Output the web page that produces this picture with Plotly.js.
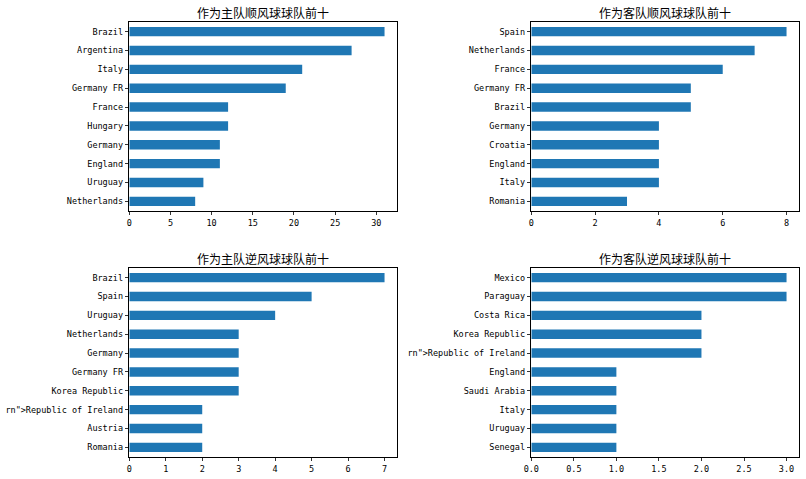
<!DOCTYPE html>
<html>
<head>
<meta charset="utf-8">
<script src="https://cdn.plot.ly/plotly-3.0.1.min.js"></script>
<style>body{margin:0;padding:0;background:#fff;}#chart{width:806px;height:479px;}</style>
</head>
<body>
<div id="chart"></div>
<script>
// Data (top to bottom order as shown)
var homeWinTeams = ["Brazil","Argentina","Italy","Germany FR","France","Hungary","Germany","England","Uruguay","Netherlands"];
var homeWinValues = [31,27,21,19,12,12,11,11,9,8];
var awayWinTeams = ["Spain","Netherlands","France","Germany FR","Brazil","Germany","Croatia","England","Italy","Romania"];
var awayWinValues = [8,7,6,5,5,4,4,4,4,3];
var homeLoseTeams = ["Brazil","Spain","Uruguay","Netherlands","Germany","Germany FR","Korea Republic","rn\">Republic of Ireland","Austria","Romania"];
var homeLoseValues = [7,5,4,3,3,3,3,2,2,2];
var awayLoseTeams = ["Mexico","Paraguay","Costa Rica","Korea Republic","rn\">Republic of Ireland","England","Saudi Arabia","Italy","Uruguay","Senegal"];
var awayLoseValues = [3,3,2,2,2,1,1,1,1,1];
var titles = ["作为主队顺风球球队前十","作为客队顺风球球队前十","作为主队逆风球球队前十","作为客队逆风球球队前十"];

var barColor = "#1f77b4";
var tickFont = {family: "'DejaVu Sans Mono', 'Liberation Mono', monospace", size: 8.5, color: "#000"};
var sets = [[homeWinTeams, homeWinValues],[awayWinTeams, awayWinValues],[homeLoseTeams, homeLoseValues],[awayLoseTeams, awayLoseValues]];

var traces = sets.map(function(s, i){
  var n = i === 0 ? "" : String(i+1);
  return {
    type: "bar", orientation: "h",
    x: s[1], y: s[0],
    xaxis: "x" + n, yaxis: "y" + n,
    marker: {color: barColor, line: {width: 0}},
    hoverinfo: "x+y"
  };
});

var W = 806, H = 479;
var xd = [[129.3, 397.3],[531.3, 799.3]];
var yd = [[22.2, 210.8],[268.2, 456.8]];
function xdom(c){ return [xd[c][0]/W, xd[c][1]/W]; }
function ydom(r){ return [1 - yd[r][1]/H, 1 - yd[r][0]/H]; }

var layout = {
  width: W, height: H,
  margin: {l:0, r:0, t:0, b:0},
  paper_bgcolor: "#fff", plot_bgcolor: "#fff",
  showlegend: false,
  bargap: 0.5,
  font: {family: "'Noto Sans CJK SC', sans-serif", color: "#000"},
  annotations: []
};

var maxVals = [32.55, 8.4, 7.35, 3.15];
var dticks = [5, 2, 1, 0.5];
for (var i = 0; i < 4; i++) {
  var n = i === 0 ? "" : String(i+1);
  var r = Math.floor(i/2), c = i % 2;
  layout["xaxis" + n] = {
    domain: xdom(c), anchor: "y" + n,
    range: [0, maxVals[i]], dtick: dticks[i], tick0: 0,
    tickformat: i === 3 ? ".1f" : "d",
    showgrid: false, zeroline: false,
    showline: true, mirror: true, linecolor: "#000", linewidth: 1,
    ticks: "outside", ticklen: 3.5, tickwidth: 0.8, tickcolor: "#000",
    tickfont: tickFont, fixedrange: true
  };
  layout["yaxis" + n] = {
    domain: ydom(r), anchor: "x" + n,
    type: "category",
    categoryorder: "array", categoryarray: sets[i][0],
    range: [9.5, -0.5],
    showgrid: false, zeroline: false,
    showline: true, mirror: true, linecolor: "#000", linewidth: 1,
    ticks: "outside", ticklen: 3.5, tickwidth: 0.8, tickcolor: "#000",
    tickfont: tickFont, fixedrange: true
  };
  layout.annotations.push({
    text: titles[i], showarrow: false,
    xref: "paper", yref: "paper",
    x: (xd[c][0] + xd[c][1]) / 2 / W,
    y: 1 - (yd[r][0] - 9.5) / H,
    xanchor: "center", yanchor: "middle",
    font: {family: "'Noto Sans CJK SC', sans-serif", size: 12, color: "#000"}
  });
}

Plotly.newPlot("chart", traces, layout, {staticPlot: true});
</script>
</body>
</html>
